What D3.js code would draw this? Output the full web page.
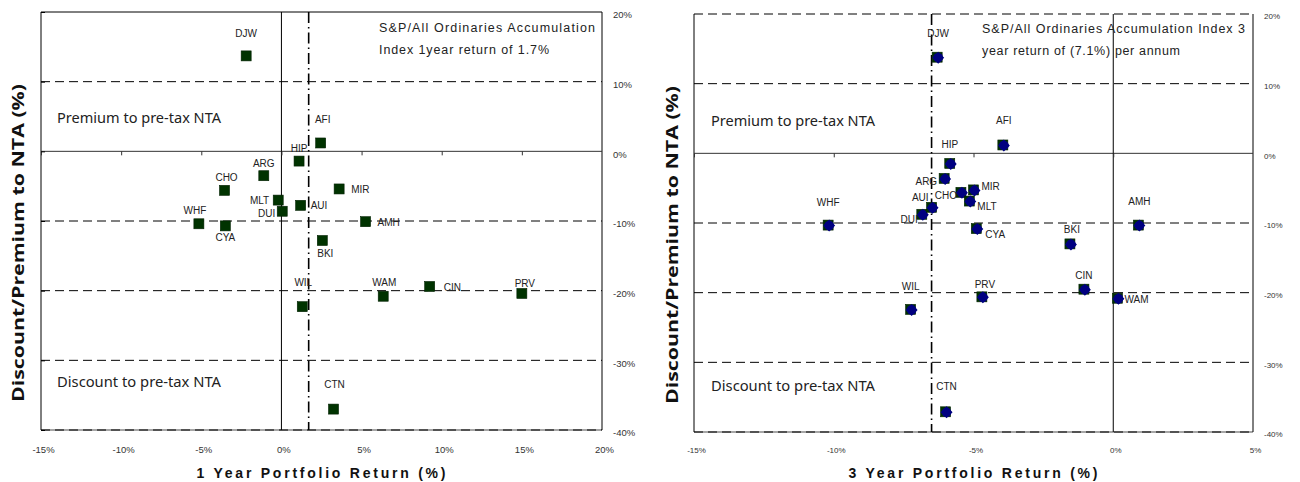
<!DOCTYPE html>
<html><head><meta charset="utf-8">
<script src="https://cdn.jsdelivr.net/npm/d3@7"></script>
<style>body{margin:0;background:#fff}svg{display:block}</style>
</head><body><svg id="chart" width="1300" height="482"></svg>
<script>
// ---------- data ----------
const tickers = ["DJW","AFI","HIP","ARG","CHO","MLT","DUI","AUI","WHF","CYA","MIR","AMH","BKI","WIL","WAM","CIN","PRV","CTN"];
const oneYearReturn   = [-2.2, 2.45, 1.1, -1.1, -3.55, -0.2, 0.05, 1.2, -5.15, -3.5, 3.6, 5.25, 2.55, 1.3, 6.35, 9.25, 15.0, 3.25];
const oneYearDiscount = [13.7, 1.2, -1.4, -3.5, -5.6, -7.0, -8.6, -7.75, -10.4, -10.7, -5.4, -10.1, -12.8, -22.3, -20.8, -19.4, -20.4, -37.0];
const threeYearReturn   = [-6.3, -3.95, -5.85, -6.05, -5.45, -5.15, -6.85, -6.5, -10.2, -4.9, -5.0, 0.9, -1.55, -7.25, 0.15, -1.05, -4.7, -6.0];
const threeYearDiscount = [13.8, 1.2, -1.45, -3.6, -5.6, -6.85, -8.75, -7.75, -10.3, -10.8, -5.25, -10.3, -13.0, -22.4, -20.8, -19.5, -20.6, -37.1];
const indexReturn1 = 1.7;
const indexReturn3 = -6.5;
const xTicks1 = [-15, -10, -5, 0, 5, 10, 15, 20];
const xTicks3 = [-15, -10, -5, 0, 5];
const yTicks = [20, 10, 0, -10, -20, -30, -40];
const annotation1 = ["S&P/All Ordinaries Accumulation", "Index 1year return of 1.7%"];
const annotation3 = ["S&P/All Ordinaries Accumulation Index 3", "year return of (7.1%) per annum"];

// ---------- label placement (layout) ----------
const labelLayout1 = {
  DJW:["middle",0,-22], AFI:["middle",2,-23], HIP:["middle",0,-13], ARG:["middle",0,-12],
  CHO:["middle",2,-13], MLT:["end",-9,0], DUI:["end",-7,2], AUI:["start",10,0],
  WHF:["middle",-4,-13], CYA:["middle",0,12], MIR:["start",12,1], AMH:["start",12,1],
  BKI:["middle",3,13], WIL:["middle",1,-24], WAM:["middle",1,-14], CIN:["start",14,1],
  PRV:["middle",3,-10], CTN:["middle",1,-25]
};
const labelLayout3 = {
  DJW:["middle",1,-24], AFI:["middle",1,-24], HIP:["middle",0,-19], ARG:["end",-7,3],
  CHO:["end",-4,3], AUI:["end",-3,-10], DUI:["end",-4,5], MIR:["start",8,-3],
  MLT:["start",8,5], CYA:["start",9,6], WHF:["middle",0,-23], AMH:["middle",1,-24],
  BKI:["middle",2,-14], CIN:["middle",0,-14], WAM:["start",7,1], PRV:["middle",3,-12],
  WIL:["middle",0,-23], CTN:["middle",1,-25]
};

const svg = d3.select("#chart");
svg.append("rect").attr("width",1300).attr("height",482).attr("fill","#fff");

function drawPanel(cfg) {
  const x = d3.scaleLinear().domain(cfg.xDomain).range([cfg.x0, cfg.x1]);
  const y = d3.scaleLinear().domain([-40, 20]).range([cfg.y1, cfg.y0]);
  const g = svg.append("g");
  const pts = tickers.map((t, i) => ({t, r: cfg.ret[i], d: cfg.disc[i]}));

  g.append("line").attr("x1", cfg.x0).attr("x2", cfg.x1).attr("y1", y(-40)).attr("y2", y(-40))
    .attr("stroke", "#888").attr("stroke-width", 1.5);
  g.selectAll("line.grid").data(cfg.dashed).join("line").attr("class","grid")
    .attr("x1", cfg.x0).attr("x2", cfg.x1)
    .attr("y1", d => y(d)).attr("y2", d => y(d))
    .attr("stroke", "#000").attr("stroke-width", 1).attr("stroke-dasharray", "9,5");
  const solid = [[cfg.x0, cfg.y0, cfg.x0, cfg.y1], [cfg.x1, cfg.y0, cfg.x1, cfg.y1]];
  if (cfg.solidTop) solid.push([cfg.x0, cfg.y0, cfg.x1, cfg.y0]);
  g.selectAll("line.border").data(solid).join("line").attr("class","border")
    .attr("x1", d=>d[0]).attr("y1", d=>d[1]).attr("x2", d=>d[2]).attr("y2", d=>d[3])
    .attr("stroke", "#000").attr("stroke-width", 1);

  g.append("line").attr("x1", cfg.x0).attr("x2", cfg.x1).attr("y1", y(0)).attr("y2", y(0))
    .attr("stroke", "#333").attr("stroke-width", 1);
  g.append("line").attr("x1", x(0)).attr("x2", x(0)).attr("y1", cfg.y0).attr("y2", cfg.y1)
    .attr("stroke", "#000").attr("stroke-width", 1);

  const tk = g.append("g").attr("transform", `translate(0,${y(0)})`)
    .call(d3.axisBottom(x).tickValues(cfg.xTicks.slice(0, -1)).tickSize(4).tickFormat(""));
  tk.select(".domain").remove();
  tk.selectAll("line").attr("stroke", "#333");
  if (cfg.leftTicks) {
    const lt = g.append("g").attr("transform", `translate(${cfg.x0},0)`)
      .call(d3.axisRight(y).tickValues(yTicks).tickSize(4).tickFormat(""));
    lt.select(".domain").remove();
    lt.selectAll("line").attr("stroke", "#000");
  }

  g.append("line").attr("x1", x(cfg.index)).attr("x2", x(cfg.index))
    .attr("y1", cfg.y0).attr("y2", cfg.y1)
    .attr("stroke", "#000").attr("stroke-width", 1.6).attr("stroke-dasharray", "11,4,1.5,4");

  const xa = g.append("g").attr("transform", `translate(0,${cfg.y1})`)
    .call(d3.axisBottom(x).tickValues(cfg.xTicks).tickSize(0).tickPadding(cfg.xPad).tickFormat(d => d + "%"));
  xa.select(".domain").remove();
  xa.selectAll("text").attr("font-family", "Liberation Sans, Arial, sans-serif")
    .attr("font-size", cfg.tickFont).attr("fill", "#333").attr("dx", 2);
  const ya = g.append("g").attr("transform", `translate(${cfg.yLabelX},0)`)
    .call(d3.axisRight(y).tickValues(yTicks).tickSize(0).tickPadding(0).tickFormat(d => d + "%"));
  ya.select(".domain").remove();
  ya.selectAll("text").attr("font-family", "Liberation Sans, Arial, sans-serif")
    .attr("font-size", cfg.tickFont).attr("fill", "#333").attr("dy", "0.6em");

  const regionFont = "Noto Sans, Open Sans, sans-serif";
  g.append("text").attr("x", cfg.regionX).attr("y", cfg.premY).attr("dy", "0.35em")
    .attr("font-family", regionFont).attr("font-size", 14).attr("fill", "#222")
    .attr("textLength", 164).attr("lengthAdjust", "spacingAndGlyphs").text("Premium to pre-tax NTA");
  g.append("text").attr("x", cfg.regionX).attr("y", cfg.discY).attr("dy", "0.35em")
    .attr("font-family", regionFont).attr("font-size", 14).attr("fill", "#222")
    .attr("textLength", 164).attr("lengthAdjust", "spacingAndGlyphs").text("Discount to pre-tax NTA");

  g.selectAll("text.ann").data(cfg.annotation).join("text").attr("class","ann")
    .attr("x", cfg.annX).attr("y", (d, i) => cfg.annY + i * 22).attr("dy", "0.35em")
    .attr("font-family", "Liberation Sans, Arial, sans-serif").attr("font-size", 12.5).attr("fill", "#222")
    .attr("textLength", (d, i) => cfg.annLen[i]).attr("lengthAdjust", "spacing")
    .text(d => d);

  const m = g.selectAll("g.pt").data(pts).join("g").attr("class","pt")
    .attr("transform", d => `translate(${x(d.r)},${y(d.d)})`);
  m.append("rect").attr("x", -5).attr("y", -5).attr("width", 10).attr("height", 10)
    .attr("fill", "#003300").attr("stroke", "#002000").attr("stroke-width", 0.6);
  if (cfg.blue) {
    m.append("path").attr("transform", "translate(1,0.5) rotate(45)")
      .attr("d", d3.symbol(d3.symbolSquare, 72)()).attr("fill", "#000080");
    m.append("circle").attr("cx", 1).attr("cy", 0.5).attr("r", 4.8).attr("fill", "#000080");
  }
  g.selectAll("text.lbl").data(pts).join("text").attr("class","lbl")
    .attr("x", d => x(d.r) + cfg.layout[d.t][1])
    .attr("y", d => y(d.d) + cfg.layout[d.t][2])
    .attr("dy", "0.35em")
    .attr("text-anchor", d => cfg.layout[d.t][0])
    .attr("font-family", "Liberation Sans, Arial, sans-serif").attr("font-size", 10).attr("fill", "#222")
    .text(d => d.t);

  svg.append("text").attr("transform", `translate(${cfg.yTitleX},${(cfg.y0 + cfg.y1) / 2 + 22}) rotate(-90)`)
    .attr("text-anchor", "middle").attr("dy", "0.35em")
    .attr("font-family", "Open Sans, Noto Sans, sans-serif").attr("font-weight", "bold")
    .attr("font-size", 16).attr("fill", "#111")
    .attr("textLength", 318).attr("lengthAdjust", "spacingAndGlyphs")
    .text("Discount/Premium to NTA (%)");
  svg.append("text").attr("x", cfg.xTitleX).attr("y", 473).attr("dy", "0.35em")
    .attr("text-anchor", "middle")
    .attr("font-family", "Liberation Sans, Arial, sans-serif").attr("font-weight", "bold")
    .attr("font-size", 14).attr("fill", "#111")
    .attr("textLength", 249).attr("lengthAdjust", "spacing")
    .text(cfg.xTitle);
}

drawPanel({
  xDomain: [-15, 20], x0: 41, x1: 602, y0: 12, y1: 430,
  ret: oneYearReturn, disc: oneYearDiscount, index: indexReturn1,
  xTicks: xTicks1, dashed: [10, -10, -20, -30, -40], solidTop: true, leftTicks: true,
  xPad: 16, tickFont: 9.5, yLabelX: 613,
  regionX: 57, premY: 118, discY: 382,
  annotation: annotation1, annX: 379, annY: 28, annLen: [216, 170],
  layout: labelLayout1, blue: false,
  yTitleX: 18, xTitleX: 321, xTitle: "1 Year Portfolio Return (%)"
});
drawPanel({
  xDomain: [-15, 5], x0: 694, x1: 1253, y0: 14, y1: 432,
  ret: threeYearReturn, disc: threeYearDiscount, index: indexReturn3,
  xTicks: xTicks3, dashed: [20, 10, -10, -20, -30, -40], solidTop: false, leftTicks: false,
  xPad: 15, tickFont: 8, yLabelX: 1264,
  regionX: 711, premY: 121, discY: 386,
  annotation: annotation3, annX: 982, annY: 29, annLen: [263, 198],
  layout: labelLayout3, blue: true,
  yTitleX: 672, xTitleX: 973, xTitle: "3 Year Portfolio Return (%)"
});
</script></body></html>
